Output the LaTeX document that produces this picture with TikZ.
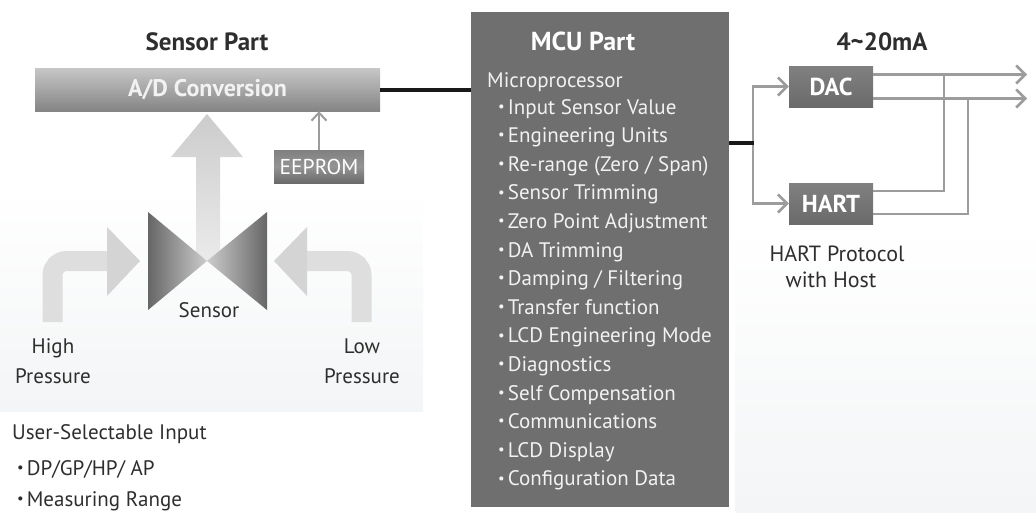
\documentclass[tikz,border=0pt]{standalone}
\usepackage{fontspec}
\setmainfont{PT Sans}
\usetikzlibrary{arrows.meta}

\definecolor{txtdark}{HTML}{2E2E2E}
\definecolor{txtlight}{HTML}{F2F2F2}
\definecolor{mcugray}{HTML}{6F6F6F}
\definecolor{boxgray}{HTML}{6A6A6A}
\definecolor{linegray}{HTML}{9C9C9C}
\definecolor{arrowgray}{HTML}{DEDEDE}
\definecolor{panelgray}{HTML}{F3F5F6}

\newcommand\fsz[1]{\fontsize{#1}{#1}\selectfont}
\newcommand\dotitem{\raisebox{.25ex}{\scalebox{.7}{\textbullet}}\hspace{3pt}}

\tikzset{
  title/.style={font=\fsz{25}\bfseries,text=txtdark,anchor=base},
  plain/.style={font=\fsz{21},text=txtdark,anchor=base},
  mcutext/.style={font=\fsz{21},text=txtlight,anchor=base west},
  darkbox/.style={rectangle,top color=boxgray!85,bottom color=boxgray,
    text=white,font=\fsz{24.5}\bfseries,minimum width=84pt,minimum height=41pt},
  grayline/.style={draw=linegray,line width=2.6pt},
  blackline/.style={draw=black!90,line width=4pt},
  barb/.style={-{Straight Barb[length=9pt,width=18pt]}}
}

\begin{document}
\begin{tikzpicture}[x=1pt,y=-1pt,every node/.style={inner sep=0pt}]
\useasboundingbox (0,0) rectangle (1036,523);
% panels
\shade[top color=white,bottom color=panelgray] (0,187) rectangle (423,411);
\shade[top color=white,bottom color=panelgray] (735,225) rectangle (1036,512);

% sensor part
\node[title] (senstitle) at (207,50) {Sensor Part};
\node[rectangle,top color=black!22,bottom color=black!48,minimum width=345pt,
  minimum height=43pt,text=txtlight,font=\fsz{24}\bfseries] (adc) at (207.5,89.5) {A/D Conversion};
\node[darkbox,middle color=black!42,font=\fsz{21.5},minimum width=90pt,minimum height=33pt]
  (eeprom) at (319,166.5) {EEPROM};
\draw[grayline,line width=2pt,-{Straight Barb[length=8pt,width=15pt]}] (eeprom.north) -- (eeprom.north |- adc.south);

% big arrows
\shade[top color=black!20,bottom color=black!8] (196,261) -- (196,157) -- (171,157) -- (207,114)
  -- (243,157) -- (220,157) -- (220,261) -- cycle;
\draw[arrowgray,line width=20pt,rounded corners=14pt] (52.5,322) -- (52.5,261) -- (108,261);
\fill[black!17] (107,227) -- (140,261) -- (107,296) -- cycle;
\draw[arrowgray,line width=20pt,rounded corners=14pt] (361.5,322) -- (361.5,261) -- (306,261);
\fill[black!17] (307,227) -- (274,261) -- (307,296) -- cycle;

% sensor
\shade[left color=black!60,right color=black!20] (148,212) -- (207,261) -- (148,310) -- cycle;
\shade[left color=black!20,right color=black!60] (267,212) -- (207,261) -- (267,310) -- cycle;
\node[plain] (sensor) at (209,317) {Sensor};
\node[plain] (high) at (53,353) {High};
\node[plain] (highp) at (53,383) {Pressure};
\node[plain] (low) at (362,353) {Low};
\node[plain] (lowp) at (362,383) {Pressure};

\node[plain,anchor=base west] (usel) at (12,439) {User-Selectable Input};
\node[plain,anchor=base west] (usel1) at (17,475) {\dotitem DP/GP/HP/ AP};
\node[plain,anchor=base west] (usel2) at (17,506) {\dotitem Measuring Range};

% mcu part
\node[rectangle,fill=mcugray,minimum width=258pt,minimum height=495pt] (mcu) at (600,259.5) {};
\node[title,text=white,font=\fsz{26}\bfseries] (mcutitle) at (583,50) {MCU Part};
\node[mcutext] (micro) at (487,87) {Microprocessor};
\foreach \txt [count=\i] in {Input Sensor Value,Engineering Units,Re-range (Zero / Span),
  Sensor Trimming,Zero Point Adjustment,DA Trimming,Damping / Filtering,Transfer function,
  LCD Engineering Mode,Diagnostics,Self Compensation,Communications,LCD Display,Configuration Data}
  \node[mcutext] (item\i) at (498,114+28.6*\i-28.6) {\dotitem\txt};

\draw[blackline] (adc.east) -- (adc.east -| mcu.west);

% output part
\node[title] (outtitle) at (882,50) {4\textasciitilde20mA};
\node[darkbox] (dac) at (831,86.5) {DAC};
\node[darkbox] (hart) at (831,203.5) {HART};
\node[plain,font=\fsz{22}] (prot) at (837,261) {HART Protocol};
\node[plain,font=\fsz{22}] (host) at (831,287) {with Host};

\coordinate (split) at (753,143);
\coordinate (out1) at (1027,74.5);
\coordinate (out2) at (1027,98.5);
\coordinate (j1) at (944,74.5);
\coordinate (j2) at (968,98.5);

\draw[grayline,barb] (split) |- (dac.west);
\draw[grayline,barb] (split) |- (hart.west);
\draw[blackline] (mcu.east |- split) -- ([xshift=1pt]split);
\draw[grayline,barb] ([yshift=12pt]dac.east) -- (out1);
\draw[grayline,barb] ([yshift=-12pt]dac.east) -- (out2);
\draw[grayline] ([yshift=12.5pt]hart.east) -| (j1);
\draw[grayline] ([yshift=-10.5pt]hart.east) -| (j2);
\end{tikzpicture}
\end{document}
